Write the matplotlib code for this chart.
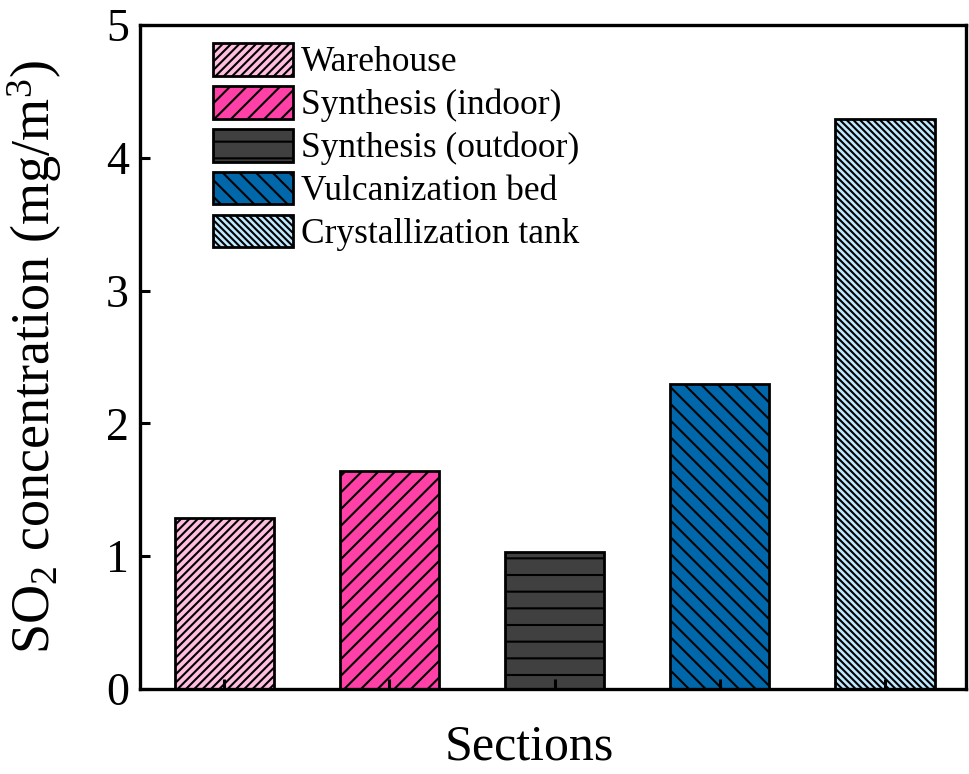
import matplotlib
matplotlib.use("Agg")
import matplotlib.pyplot as plt
import numpy as np

categories = ["Warehouse", "Synthesis (indoor)", "Synthesis (outdoor)",
              "Vulcanization bed", "Crystallization tank"]
values = [1.29, 1.64, 1.03, 2.30, 4.29]
colors = ["#FFBEE0", "#FF40A6", "#404040", "#0068AA", "#C0E8FF"]
hatches = ["////", "//", "-", "\\\\", "\\\\\\\\\\"]
yticks = [0, 1, 2, 3, 4, 5]

plt.rcParams['font.family'] = ['Liberation Serif', 'DejaVu Serif']
plt.rcParams['mathtext.fontset'] = 'custom'
plt.rcParams['mathtext.rm'] = 'Liberation Serif'
plt.rcParams['mathtext.it'] = 'Liberation Serif:italic'
plt.rcParams['hatch.linewidth'] = 1.5

fig = plt.figure(figsize=(9.69, 7.74), dpi=100)
ax = fig.add_axes([140/969, 85/774, 826/969, 664/774])

x = np.arange(len(categories))
for i in range(len(categories)):
    ax.bar(x[i], values[i], width=0.6, color=colors[i], edgecolor='black',
           linewidth=2.0, hatch=hatches[i], label=categories[i])

ax.set_xlim(-0.51, 4.49)
ax.set_ylim(0, 5)
ax.set_yticks(yticks)
ax.set_xticks(x)
ax.set_xticklabels([])
ax.tick_params(axis='both', direction='in', length=7, width=2.2, labelsize=33, pad=8)
ax.tick_params(axis='x', top=False)
for s in ax.spines.values():
    s.set_linewidth(2.4)

ax.set_ylabel(r'SO$_2$ concentration (mg/m$^3$)', fontsize=39)
ax.yaxis.set_label_coords((35 - 140) / 826, 0.5)
ax.yaxis.label.set_va('center')
ax.set_xlabel('Sections', fontsize=36)
ax.xaxis.set_label_coords((529 - 140) / 826, -(760 - 689) / 664)
ax.xaxis.label.set_va('baseline')

leg = ax.legend(loc='upper left', bbox_to_anchor=(73/826, 1 - 18/664), frameon=False,
                fontsize=25.5, handlelength=2.26, handleheight=1.04, labelspacing=0.185,
                handletextpad=0.23, borderpad=0, borderaxespad=0)

fig.savefig("out.png", dpi=100)
